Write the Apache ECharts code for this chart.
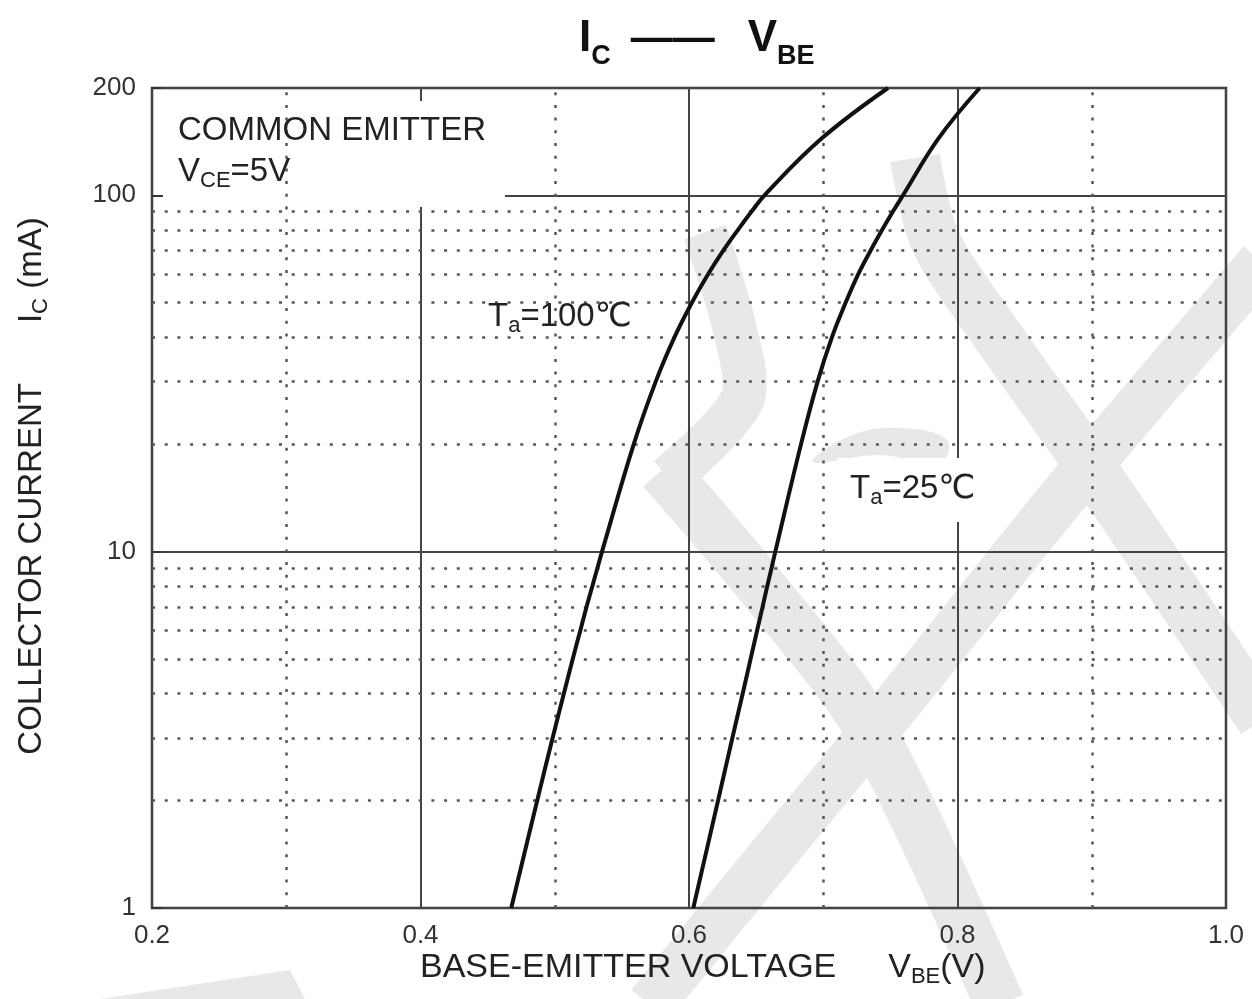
<!DOCTYPE html>
<html>
<head>
<meta charset="utf-8">
<script src="https://cdn.jsdelivr.net/npm/echarts@6/dist/echarts.min.js"></script>
<style>
html, body { margin: 0; padding: 0; background: #fff; }
#main { width: 1252px; height: 999px; }
</style>
</head>
<body>
<div id="main"></div>
<script>
// collector current (mA) and the base-emitter voltage
var currents = [1, 2, 3, 4, 5, 6, 7, 8, 9, 10, 20, 30, 40, 50, 60, 70, 80, 90, 100, 144, 200];
var vbeTa100 = [0.4676, 0.4869, 0.4984, 0.5068, 0.5134, 0.5190, 0.5237, 0.5280, 0.5318, 0.5352, 0.5588, 0.5752, 0.5892, 0.6022, 0.6142, 0.6256, 0.6365, 0.6466, 0.6562, 0.6985, 0.7482];
var vbeTa25 = [0.6032, 0.6216, 0.6323, 0.6400, 0.6459, 0.6507, 0.6548, 0.6583, 0.6615, 0.6643, 0.6834, 0.6958, 0.7065, 0.7167, 0.7260, 0.7353, 0.7439, 0.7519, 0.7594, 0.7856, 0.8165];

// grid: solid every 0.2 V / decade, dotted in between
var xDotted = [0.3, 0.5, 0.7, 0.9];
var yDotted = [2, 3, 4, 5, 6, 7, 8, 9, 20, 30, 40, 50, 60, 70, 80, 90];

var FONT = '"Liberation Sans", Arial, "DejaVu Sans", "Noto Sans CJK SC", sans-serif';
var INK = '#222';

function pairs(xs, ys) {
  var out = [];
  for (var i = 0; i < xs.length; i++) {
    out.push([xs[i], ys[i]]);
  }
  return out;
}

var dotted = { color: '#555', width: 2.5, type: [3, 9.7] };

// plain text rich styles (title textStyle defaults to bold, so set weight everywhere)
function plain(size, lh, extra) {
  var s = { fontSize: size, color: INK, lineHeight: lh, fontWeight: 'normal', fontFamily: FONT };
  for (var k in extra) s[k] = extra[k];
  return s;
}

var myChart = echarts.init(document.getElementById('main'), null, { renderer: 'canvas' });

var option = {
  backgroundColor: '#fff',
  animation: false,
  textStyle: { fontFamily: FONT },
  title: [
    {
      text: '{i|I}{ic|C}{d|——}{i|V}{ic|BE}',
      left: 579, top: 8, padding: 0,
      textStyle: {
        fontWeight: 'bold',
        rich: {
          i: { fontSize: 44, fontWeight: 'bold', color: '#111', lineHeight: 62, fontFamily: FONT },
          ic: { fontSize: 27, fontWeight: 'bold', color: '#111', lineHeight: 26, verticalAlign: 'bottom', fontFamily: FONT },
          d: { fontSize: 42, fontWeight: 'bold', color: '#111', lineHeight: 62, padding: [0, 33, 0, 20], fontFamily: FONT }
        }
      }
    },
    {
      text: '{m|COMMON EMITTER}\n{m|V}{s|CE}{m|=5V}',
      left: 178, top: 110, padding: 0,
      textStyle: {
        fontWeight: 'normal',
        rich: { m: plain(33, 41), s: plain(22, 10, { verticalAlign: 'bottom' }) }
      }
    },
    {
      text: '{m|T}{s|a}{m|=100℃}',
      left: 488, top: 297, padding: 0,
      textStyle: {
        fontWeight: 'normal',
        rich: { m: plain(33, 40), s: plain(22, 4, { verticalAlign: 'bottom' }) }
      }
    },
    {
      text: '{m|T}{s|a}{m|=25℃}',
      left: 850, top: 469, padding: 0,
      textStyle: {
        fontWeight: 'normal',
        rich: { m: plain(33, 40), s: plain(22, 4, { verticalAlign: 'bottom' }) }
      }
    },
    {
      text: '{m|BASE-EMITTER VOLTAGE}{v|V}{s|BE}{m|(V)}',
      left: 420, top: 948, padding: 0,
      textStyle: {
        fontWeight: 'normal',
        rich: {
          m: plain(34, 40),
          v: plain(34, 40, { padding: [0, 0, 0, 52] }),
          s: plain(22, 6, { verticalAlign: 'bottom' })
        }
      }
    }
  ],
  graphic: [
    // faint watermark behind the grid
    { type: 'polyline', z: -10, silent: true, shape: { points: [[650, 1005], [760, 870], [900, 700], [1060, 500], [1262, 262]], smooth: 0.3 }, style: { stroke: '#e8e8e8', lineWidth: 48, fill: null } },
    { type: 'polyline', z: -10, silent: true, shape: { points: [[705, 232], [735, 330], [742, 400], [668, 478]], smooth: 0.3 }, style: { stroke: '#e8e8e8', lineWidth: 44, fill: null } },
    { type: 'polyline', z: -10, silent: true, shape: { points: [[662, 470], [760, 585], [870, 730], [1000, 1005]], smooth: 0.3 }, style: { stroke: '#e8e8e8', lineWidth: 50, fill: null } },
    { type: 'polyline', z: -10, silent: true, shape: { points: [[915, 158], [935, 240], [990, 325], [1100, 480], [1262, 720]], smooth: 0.3 }, style: { stroke: '#e8e8e8', lineWidth: 50, fill: null } },
    { type: 'polygon', z: -10, silent: true, shape: { points: [[813, 462], [850, 436], [900, 428], [947, 440], [940, 463], [880, 455]], smooth: 0.4 }, style: { fill: '#e8e8e8' } },
    { type: 'polygon', z: -10, silent: true, shape: { points: [[100, 999], [290, 970], [305, 999]] }, style: { fill: '#e8e8e8' } },

    // white patches behind the annotations (under the titles, over the grid)
    { type: 'rect', z: 4, silent: true, shape: { x: 163, y: 101, width: 342, height: 106 }, style: { fill: '#fff' } },
    { type: 'rect', z: 4, silent: true, shape: { x: 482, y: 287, width: 163, height: 63 }, style: { fill: '#fff' } },
    { type: 'rect', z: 4, silent: true, shape: { x: 838, y: 458, width: 140, height: 64 }, style: { fill: '#fff' } },

    // rotated y axis title
    {
      type: 'text', z: 20, x: 32, y: 486, rotation: Math.PI / 2,
      style: {
        text: '{m|COLLECTOR CURRENT}{v|I}{s|C}{m| (mA)}',
        align: 'center', verticalAlign: 'middle',
        rich: {
          m: { fontSize: 33, fill: INK, lineHeight: 40, fontFamily: FONT },
          v: { fontSize: 33, fill: INK, lineHeight: 40, padding: [0, 0, 0, 60], fontFamily: FONT },
          s: { fontSize: 22, fill: INK, lineHeight: 6, verticalAlign: 'bottom', fontFamily: FONT }
        }
      }
    }
  ],
  grid: {
    left: 152, right: 26, top: 88, bottom: 91,
    show: true, borderColor: '#333', borderWidth: 2.5, backgroundColor: 'transparent'
  },
  xAxis: {
    type: 'value', min: 0.2, max: 1.0, interval: 0.2,
    axisLine: { show: false },
    axisTick: { show: false },
    axisLabel: {
      fontSize: 26, color: '#333', margin: 15, fontFamily: FONT,
      formatter: function (v) { return v.toFixed(1); }
    },
    splitLine: { show: true, lineStyle: { color: '#444', width: 2 } }
  },
  yAxis: {
    type: 'log', logBase: 10, min: 1, max: 200,
    axisLine: { show: false },
    axisTick: { show: true, inside: true, length: 10, lineStyle: { color: '#333', width: 2 } },
    axisLabel: { fontSize: 26, color: '#333', margin: 16, fontFamily: FONT },
    splitLine: { show: true, lineStyle: { color: '#444', width: 2 } }
  },
  series: [
    {
      name: 'minor grid', type: 'line', data: [], z: 1, silent: true,
      markLine: {
        silent: true, symbol: ['none', 'none'], label: { show: false },
        lineStyle: dotted, animation: false,
        data: yDotted.map(function (v) { return { yAxis: v }; })
          .concat(xDotted.map(function (v) { return { xAxis: v }; }))
      }
    },
    {
      name: 'Ta=100℃', type: 'line', data: pairs(vbeTa100, currents),
      smooth: 0.4, symbol: 'none', z: 20,
      lineStyle: { color: '#111', width: 4 }
    },
    {
      name: 'Ta=25℃', type: 'line', data: pairs(vbeTa25, currents),
      smooth: 0.4, symbol: 'none', z: 20,
      lineStyle: { color: '#111', width: 4 }
    }
  ]
};

myChart.setOption(option);
</script>
</body>
</html>
